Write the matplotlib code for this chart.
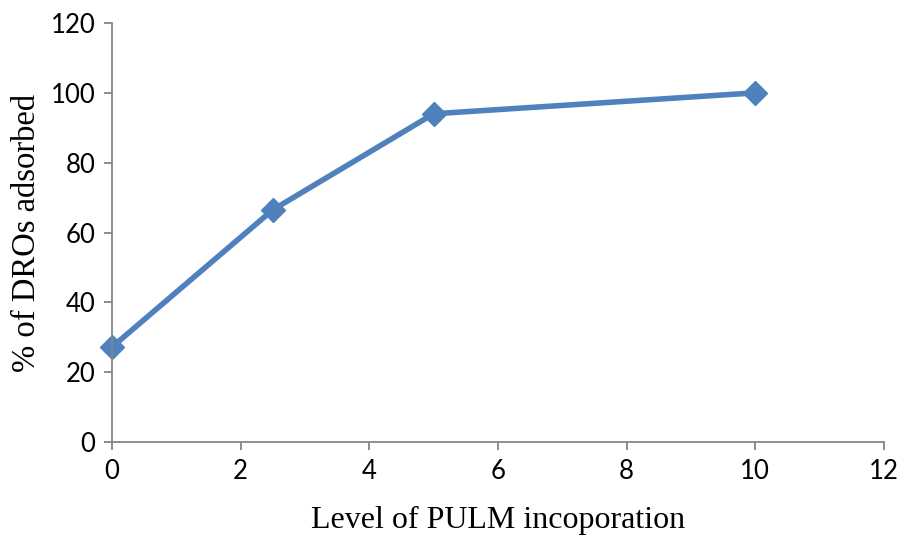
import matplotlib
matplotlib.use("Agg")
import matplotlib.pyplot as plt

# Level of PULM incorporation vs % of DROs adsorbed
levels = [0, 2.5, 5, 10]
adsorbed = [27.2, 66.5, 94.0, 100.0]

x_ticks = [0, 2, 4, 6, 8, 10, 12]
y_ticks = [0, 20, 40, 60, 80, 100, 120]

LINE_COLOR = "#4F81BD"
AXIS_COLOR = "#868686"


def main() -> None:
    fig = plt.figure(figsize=(9.01, 5.35), dpi=100)
    ax = fig.add_axes([0.1243, 0.1738, 0.8567, 0.7832])

    ax.plot(levels, adsorbed, color=LINE_COLOR, linewidth=4, marker="D",
            markersize=12.5, markerfacecolor=LINE_COLOR, markeredgecolor=LINE_COLOR,
            clip_on=False)

    ax.set_xlim(0, 12)
    ax.set_ylim(0, 120)
    ax.set_xticks(x_ticks)
    ax.set_yticks(y_ticks)
    ax.set_xticklabels([str(t) for t in x_ticks], fontfamily="Lato", fontsize=18.5)
    ax.set_yticklabels([str(t) for t in y_ticks], fontfamily="Lato", fontsize=18.5)

    for side in ["top", "right"]:
        ax.spines[side].set_visible(False)
    for side in ["left", "bottom"]:
        ax.spines[side].set_color(AXIS_COLOR)
        ax.spines[side].set_linewidth(1.3)
    ax.tick_params(direction="out", length=6, width=1.3, color=AXIS_COLOR, pad=6)

    ax.set_xlabel("Level of PULM incoporation", fontfamily="Liberation Serif",
                  fontsize=23, labelpad=16)
    ax.set_ylabel("% of DROs adsorbed", fontfamily="Liberation Serif",
                  fontsize=23.5, labelpad=6)

    fig.savefig("out.png", dpi=100)
    plt.close(fig)


if __name__ == "__main__":
    main()
